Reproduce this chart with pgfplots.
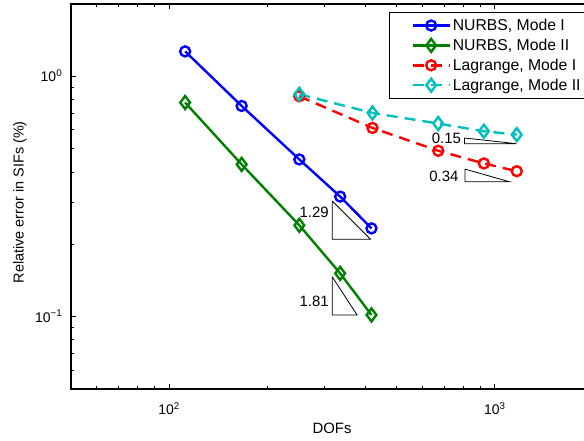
\documentclass[border=0pt]{standalone}
\usepackage{fontspec}
\setmainfont{Liberation Sans}
\usepackage{pgfplots}
\pgfplotsset{compat=1.18}
\definecolor{mblue}{rgb}{0,0,1}
\definecolor{mgreen}{rgb}{0,0.5,0}
\definecolor{mred}{rgb}{1,0,0}
\definecolor{mcyan}{rgb}{0,0.75,0.75}
\begin{document}
\begin{tikzpicture}
\begin{loglogaxis}[
  scale only axis, width=522bp, height=385bp,
  xmin=50, xmax=2000, ymin=0.05, ymax=2,
  xtick={100,1000}, xticklabels={10\textsuperscript{2},10\textsuperscript{3}},
  minor xtick={60,70,80,90,200,300,400,500,600,700,800,900,2000},
  ytick={0.1,1}, yticklabels={10\textsuperscript{−1},10\textsuperscript{0}},
  minor ytick={0.06,0.07,0.08,0.09,0.2,0.3,0.4,0.5,0.6,0.7,0.8,0.9,2},
  tick align=inside,
  major tick length=5bp, minor tick length=3bp,
  every tick/.style={black, line width=0.9bp},
  axis line style={line width=1.3bp},
  xticklabel style={font=\fontsize{14}{16}\selectfont, anchor=base, yshift=-26bp},
  yticklabel style={font=\fontsize{14}{16}\selectfont, anchor=base east, xshift=-5.3bp, yshift=-5.5bp},
  xlabel={DOFs}, ylabel={Relative error in SIFs (\%)},
  xlabel style={font=\fontsize{15}{18}\selectfont, at={(axis description cs:0.5,-0.1143)}, anchor=base},
  ylabel style={font=\fontsize{14.5}{18}\selectfont, at={(axis description cs:-0.0977,0.485)}, anchor=center},
  legend style={at={(axis description cs:1,1)}, anchor=north east, xshift=-7bp, yshift=-7.7bp,
    draw=black, line width=0.8bp, font=\fontsize{15.8}{18}\selectfont, row sep=3bp, inner ysep=5bp},
  legend cell align=left,
  legend image code/.code={\path (0bp,0bp) (0bp,1bp);\draw[mark repeat=2,mark phase=2,#1] plot coordinates {(19bp,0bp) (37.5bp,0bp) (56bp,0bp)};},
]
\addplot[mblue, line width=2.4bp, mark=o, mark size=5bp] coordinates {
  (112,1.27) (167,0.753) (251,0.451) (335,0.316) (418,0.233)};
\addplot[mgreen, line width=2.4bp, mark=diamond, mark size=6.5bp] coordinates {
  (112,0.778) (167,0.430) (251,0.240) (335,0.1514) (418,0.1016)};
\addplot[mred, line width=2.4bp, dash pattern=on 11bp off 7bp, mark=o, mark size=5bp, mark options={solid}] coordinates {
  (251,0.826) (421,0.610) (670,0.490) (925,0.434) (1167,0.403)};
\addplot[mcyan, line width=2.4bp, dash pattern=on 11bp off 7bp, mark=diamond, mark size=6.5bp, mark options={solid}] coordinates {
  (251,0.842) (421,0.704) (670,0.636) (925,0.591) (1167,0.572)};
\legend{NURBS{,} Mode I, NURBS{,} Mode II, Lagrange{,} Mode I, Lagrange{,} Mode II}
% slope triangles
\addplot[black, line width=0.8bp, forget plot] coordinates {(316.6,0.303) (316.6,0.210) (415,0.210) (316.6,0.303)};
\addplot[black, line width=0.8bp, forget plot] coordinates {(316.6,0.1466) (316.6,0.1016) (377.6,0.1016) (316.6,0.1466)};
\addplot[black, line width=0.8bp, forget plot] coordinates {(806,0.554) (806,0.5244) (1163,0.5244) (806,0.554)};
\addplot[black, line width=0.8bp, forget plot] coordinates {(809,0.411) (809,0.3644) (1107,0.3644) (809,0.411)};
\node[anchor=east, font=\fontsize{15}{18}\selectfont] at (axis cs:316.6,0.272) {1.29};
\node[anchor=east, font=\fontsize{15}{18}\selectfont] at (axis cs:316.6,0.116) {1.81};
\node[anchor=east, font=\fontsize{15}{18}\selectfont] at (axis cs:806,0.55) {0.15};
\node[anchor=east, font=\fontsize{15}{18}\selectfont, xshift=-3bp] at (axis cs:809,0.385) {0.34};
\coordinate (sw) at (rel axis cs:0,0);
\coordinate (ne) at (rel axis cs:1,1);
\end{loglogaxis}
\pgfresetboundingbox
\path ([xshift=-71bp,yshift=-52bp]sw) rectangle ([xshift=-9bp,yshift=4bp]ne);
\end{tikzpicture}
\end{document}
